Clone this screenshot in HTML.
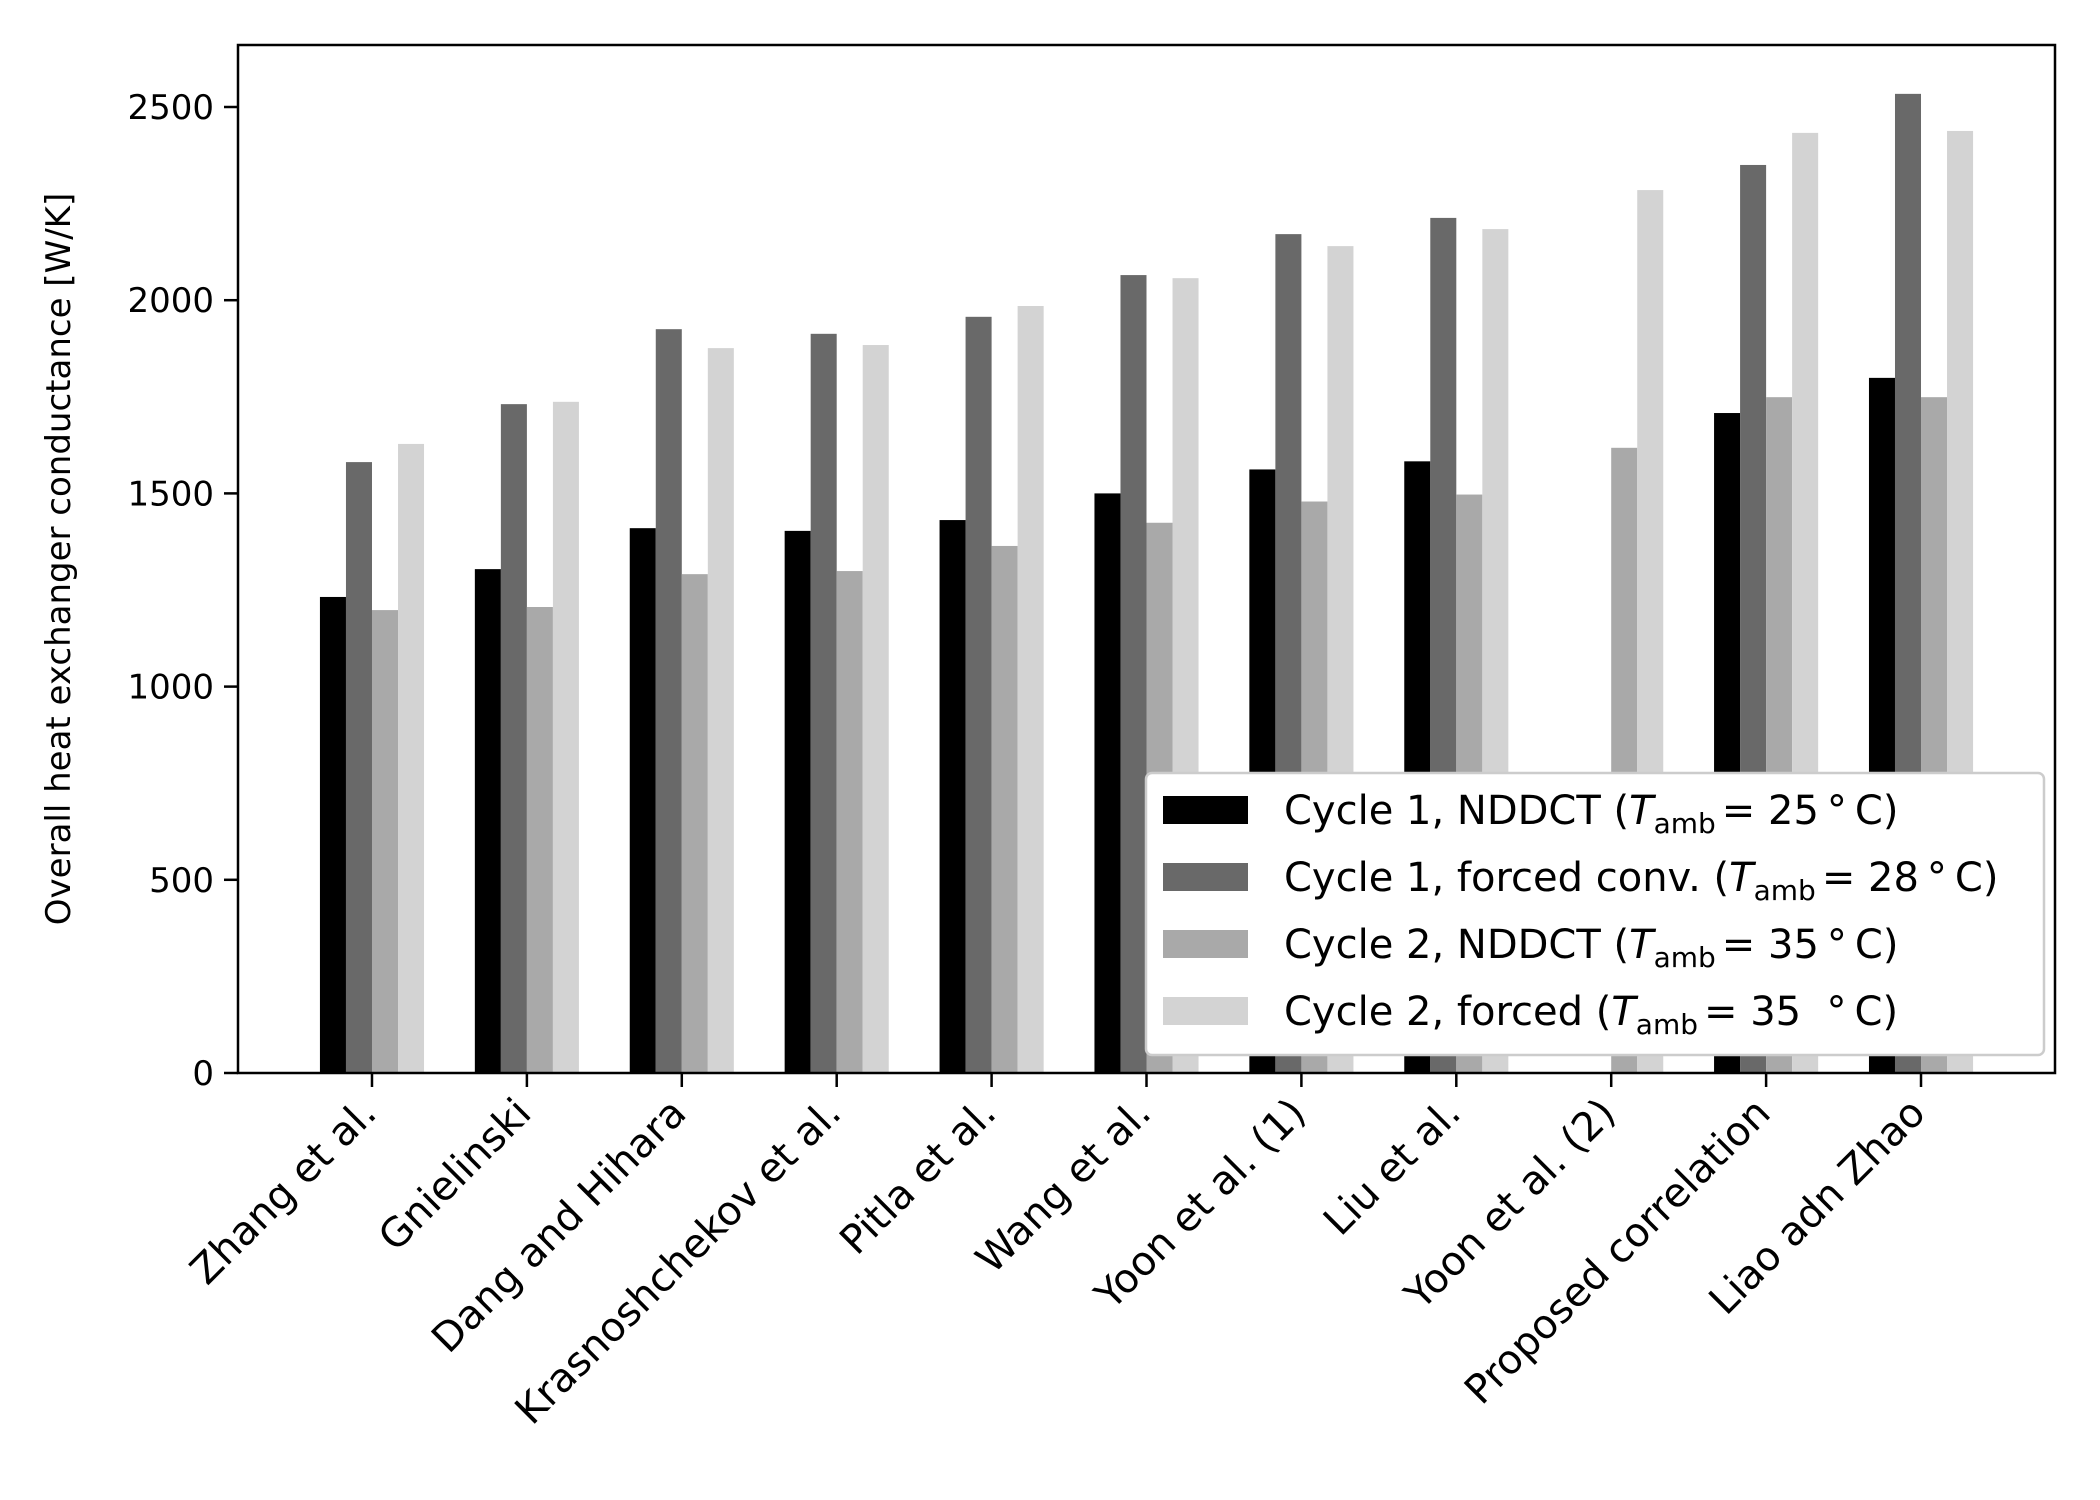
<!DOCTYPE html>
<html><head><meta charset="utf-8"><style>
html,body{margin:0;padding:0;background:#fff;}
svg{display:block;font-family:"DejaVu Sans","Liberation Sans",sans-serif;}
</style></head><body>
<svg id="chart" width="2100" height="1500" viewBox="0 0 2100 1500" xmlns="http://www.w3.org/2000/svg">
<rect width="2100" height="1500" fill="#fff"/>
<g id="bars"></g>
<g id="xticks"></g>
<g id="yticks"></g>
<rect x="238" y="45" width="1817" height="1028" fill="none" stroke="#000" stroke-width="2.5"/>
<text transform="translate(70,559) rotate(-90)" text-anchor="middle" font-size="34">Overall heat exchanger conductance [W/K]</text>
<g id="legend"></g>
</svg>
<script>
const categories = ["Zhang et al.","Gnielinski","Dang and Hihara","Krasnoshchekov et al.","Pitla et al.","Wang et al.","Yoon et al. (1)","Liu et al.","Yoon et al. (2)","Proposed correlation","Liao adn Zhao"];
const cycle1Nddct = [1232,1304,1410,1403,1431,1500,1562,1583,null,1708,1799];
const cycle1Forced = [1581,1731,1925,1913,1957,2065,2171,2213,null,2350,2534];
const cycle2Nddct = [1198,1206,1291,1299,1364,1424,1479,1497,1618,1749,1749];
const cycle2Forced = [1628,1737,1876,1884,1985,2057,2140,2184,2285,2433,2438];
const yTicks = [0,500,1000,1500,2000,2500];
const seriesLabels = ["Cycle 1, NDDCT","Cycle 1, forced conv.","Cycle 2, NDDCT","Cycle 2, forced"];
const seriesTemps = ["= 25\u2009\u00b0\u2009C)","= 28\u2009\u00b0\u2009C)","= 35\u2009\u00b0\u2009C)","= 35 \u00a0\u00b0\u2009C)"];

const NS="http://www.w3.org/2000/svg";
const L=238,R=2055,T=45,B=1073;
const yMax=(B-T)/0.3864;
const xMin=-0.865, xMax=categories.length-1+0.865;
const xs=v=>L+(v-xMin)/(xMax-xMin)*(R-L);
const ys=v=>B-v/yMax*(B-T);
const colors=["#000000","#696969","#a9a9a9","#d3d3d3"];
const series=[cycle1Nddct,cycle1Forced,cycle2Nddct,cycle2Forced];
const names=["bar-cycle1-nddct","bar-cycle1-forced","bar-cycle2-nddct","bar-cycle2-forced"];
const w=0.168;
function mk(tag,attrs,parent){const e=document.createElementNS(NS,tag);for(const k in attrs)e.setAttribute(k,attrs[k]);parent.appendChild(e);return e;}
const gb=document.getElementById('bars');
series.forEach((s,si)=>{
  s.forEach((v,i)=>{
    if(v==null)return;
    const x0=xs(i+(si-2)*w), x1=xs(i+(si-1)*w);
    const r=mk('rect',{x:x0,y:ys(v),width:x1-x0,height:ys(0)-ys(v),fill:colors[si]},gb);
    
    
  });
});
const gx=document.getElementById('xticks');
categories.forEach((c,i)=>{
  const x=xs(i);
  const t=mk('line',{x1:x,x2:x,y1:B,y2:B+14,stroke:'#000','stroke-width':2.5},gx);
  
  
  const tx=mk('text',{transform:`translate(${x-14},${B+22}) rotate(-45)`,'text-anchor':'end','font-size':40,'dominant-baseline':'hanging'},gx);
  tx.textContent=c;
  
  
});
const gy=document.getElementById('yticks');
yTicks.forEach(v=>{
  const y=ys(v);
  const t=mk('line',{x1:L-14,x2:L,y1:y,y2:y,stroke:'#000','stroke-width':2.5},gy);
  
  
  const tx=mk('text',{x:L-24,y:y+12,'text-anchor':'end','font-size':34},gy);
  tx.textContent=v;
  
  
});
const gl=document.getElementById('legend');
const box=mk('rect',{x:1146,y:773,width:898,height:282,rx:6,fill:'#fff',stroke:'#cccccc','stroke-width':2.5},gl);


seriesLabels.forEach((lab,i)=>{
  const cy=810+i*67;
  const p=mk('rect',{x:1163,y:cy-14,width:85,height:28,fill:colors[i]},gl);
  
  
  const t=mk('text',{x:1284,y:cy+14,'font-size':40},gl);
  
  
  t.appendChild(document.createTextNode(lab+' ('));
  const ti=mk('tspan',{'font-style':'italic'},t); ti.textContent='T';
  const sb=mk('tspan',{'font-size':28,dy:9},t); sb.textContent='amb';
  const rest=mk('tspan',{dy:-9,dx:6},t); rest.textContent=seriesTemps[i];
});
</script>
</body></html>
